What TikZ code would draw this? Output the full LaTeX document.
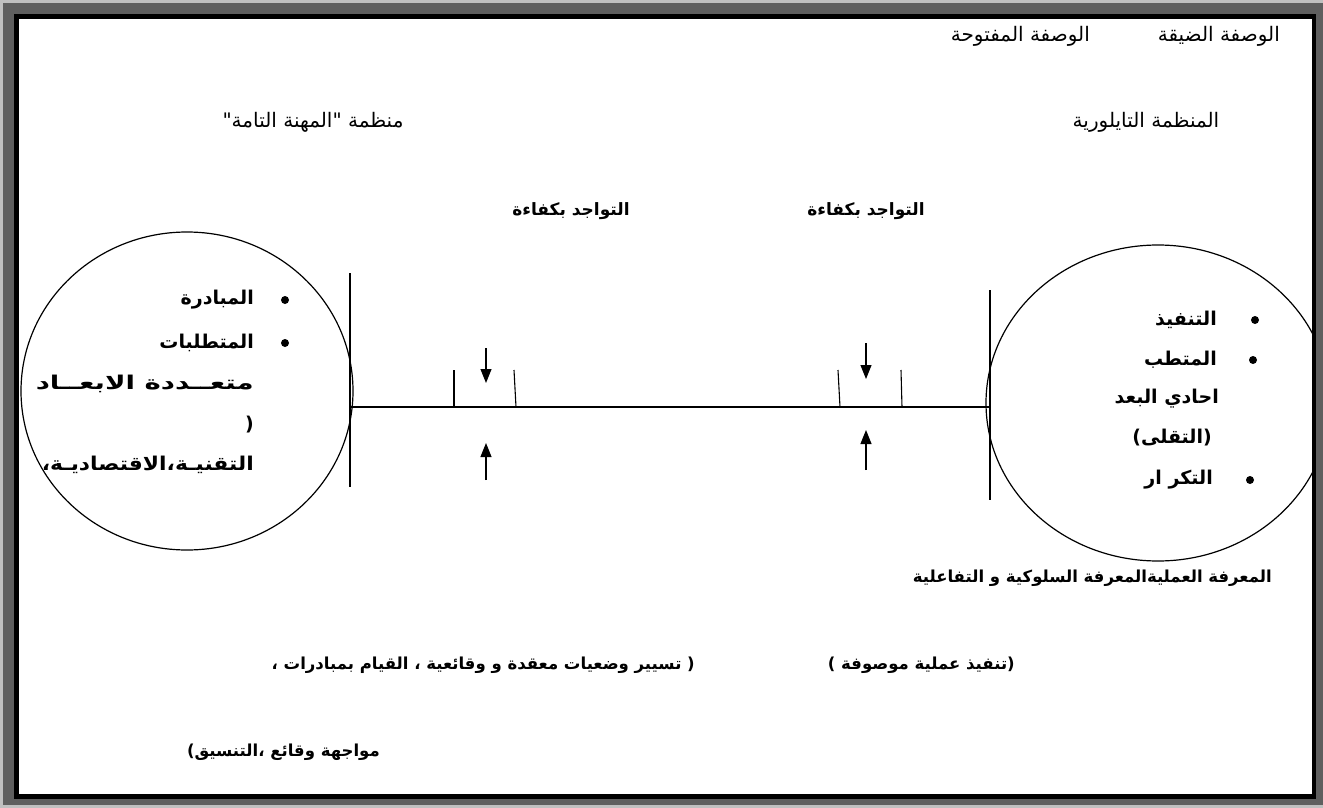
\documentclass[tikz,border=0pt]{standalone}
\usepackage{fontspec}
\newfontfamily\arabicfont[Script=Arabic]{DejaVu Sans}
\TeXXeTstate=1
\usetikzlibrary{arrows.meta,shapes.geometric}
\definecolor{lgray}{HTML}{C0C0C0}
\definecolor{dgray}{HTML}{5F5F5F}
\newcommand{\AR}[1]{\beginR #1\endR}
\begin{document}
\begin{tikzpicture}[x=1pt,y=-1pt,
  plain/.style={inner sep=0pt,font=\arabicfont\fontsize{20}{24}\selectfont},
  boldl/.style={inner sep=0pt,font=\arabicfont\bfseries\fontsize{17}{20}\selectfont},
  boldb/.style={inner sep=0pt,font=\arabicfont\bfseries\fontsize{16.5}{20}\selectfont,anchor=east},
  circtxt/.style={inner sep=0pt,font=\arabicfont\bfseries\fontsize{19}{22}\selectfont,anchor=east},
  circ/.style={ellipse,draw,line width=1.2pt,inner sep=0pt},
  bul/.style={circle,fill,inner sep=0pt,minimum size=8pt},
  bar/.style={line width=1.1pt},
  tick/.style={line width=1.1pt},
  arr/.style={line width=1.1pt,-{Triangle[length=14pt,width=11pt]}}]
\useasboundingbox (0,0) rectangle (1323,808);
% frame
\fill[lgray] (0,0) rectangle (1323,808);
\fill[dgray] (3,3) rectangle (1323,805);
\fill[black] (14,14) rectangle (1316,799);
\fill[white] (19,19) rectangle (1312,794);
\begin{scope}
\clip (19,19) rectangle (1312,794);
% top labels
\node[plain,anchor=east] (t1) at (1280,36) {\AR{الوصفة الضيقة}};
\node[plain,anchor=east] (t2) at (1090,36) {\AR{الوصفة المفتوحة}};
\node[plain] (t3) at (1146,122) {\AR{المنظمة التايلورية}};
\node[plain] (t4) at (313,122) {\AR{منظمة "المهنة التامة"}};
\node[boldl] (t5) at (571,211) {\AR{التواجد بكفاءة}};
\node[boldl] (t6) at (866,211) {\AR{التواجد بكفاءة}};
% circles
\node[circ,minimum width=332pt,minimum height=318pt] (L) at (187,391) {};
\node[circ,minimum width=344pt,minimum height=316pt] (R) at (1158,403) {};
% bars and line
\coordinate (Lt) at (350,273);
\coordinate (Lb) at (350,487);
\coordinate (Lm) at (350,407);
\coordinate (Rt) at (990,290);
\coordinate (Rb) at (990,500);
\coordinate (Rm) at (990,407);
\draw[bar] (Lt) -- (Lb);
\draw[bar] (Rt) -- (Rb);
\draw[bar] (Lm) -- (Rm);
% ticks
\coordinate (k1t) at (454,370); \coordinate (k1b) at (454,407);
\coordinate (k2t) at (514,370); \coordinate (k2b) at (516,407);
\coordinate (k3t) at (838,370); \coordinate (k3b) at (840,407);
\coordinate (k4t) at (901,370); \coordinate (k4b) at (902,407);
\draw[tick] (k1t) -- (k1b);
\draw[tick] (k2t) -- (k2b);
\draw[tick] (k3t) -- (k3b);
\draw[tick] (k4t) -- (k4b);
% arrows
\coordinate (a1s) at (486,348); \coordinate (a1e) at (486,383);
\coordinate (a2s) at (486,480); \coordinate (a2e) at (486,443);
\coordinate (a3s) at (866,343); \coordinate (a3e) at (866,379);
\coordinate (a4s) at (866,470); \coordinate (a4e) at (866,430);
\draw[arr] (a1s) -- (a1e);
\draw[arr] (a2s) -- (a2e);
\draw[arr] (a3s) -- (a3e);
\draw[arr] (a4s) -- (a4e);
% left circle text
\node[bul] (lb1) at (285,300) {};
\node[bul] (lb2) at (285,343) {};
\node[circtxt] (l1) at (254,300) {\AR{المبادرة}};
\node[circtxt] (l2) at (254,343) {\AR{المتطلبات}};
\node[circtxt] (l3) at (254,384) {\resizebox{218pt}{\height}{\AR{متعــددة الابعــاد}}};
\node[circtxt] (l4) at (254,425) {\AR{(}};
\node[circtxt] (l5) at (254,465) {\resizebox{212pt}{\height}{\AR{التقنيـة،الاقتصاديـة،}}};
% right circle text
\node[bul] (rb1) at (1255,320) {};
\node[bul] (rb2) at (1253,360) {};
\node[bul] (rb3) at (1250,480) {};
\node[circtxt] (r1) at (1217,320) {\AR{التنفيذ}};
\node[circtxt] (r2) at (1217,360) {\AR{المتطب}};
\node[circtxt] (r3) at (1219,399) {\AR{احادي البعد}};
\node[circtxt] (r4) at (1212,438) {\AR{(التقلى)}};
\node[circtxt] (r5) at (1213,480) {\AR{التكر ار}};
% bottom text
\node[boldb] (b1) at (1272,578) {\AR{المعرفة العمليةالمعرفة السلوكية و التفاعلية}};
\node[boldb] (b2) at (1015,665) {\AR{(تنفيذ عملية موصوفة )}};
\node[boldb] (b3) at (695,665) {\AR{( تسيير وضعيات معقدة و وقائعية ، القيام بمبادرات ،}};
\node[boldb] (b4) at (380,752) {\AR{مواجهة وقائع ،التنسيق)}};
\end{scope}
\end{tikzpicture}
\end{document}
